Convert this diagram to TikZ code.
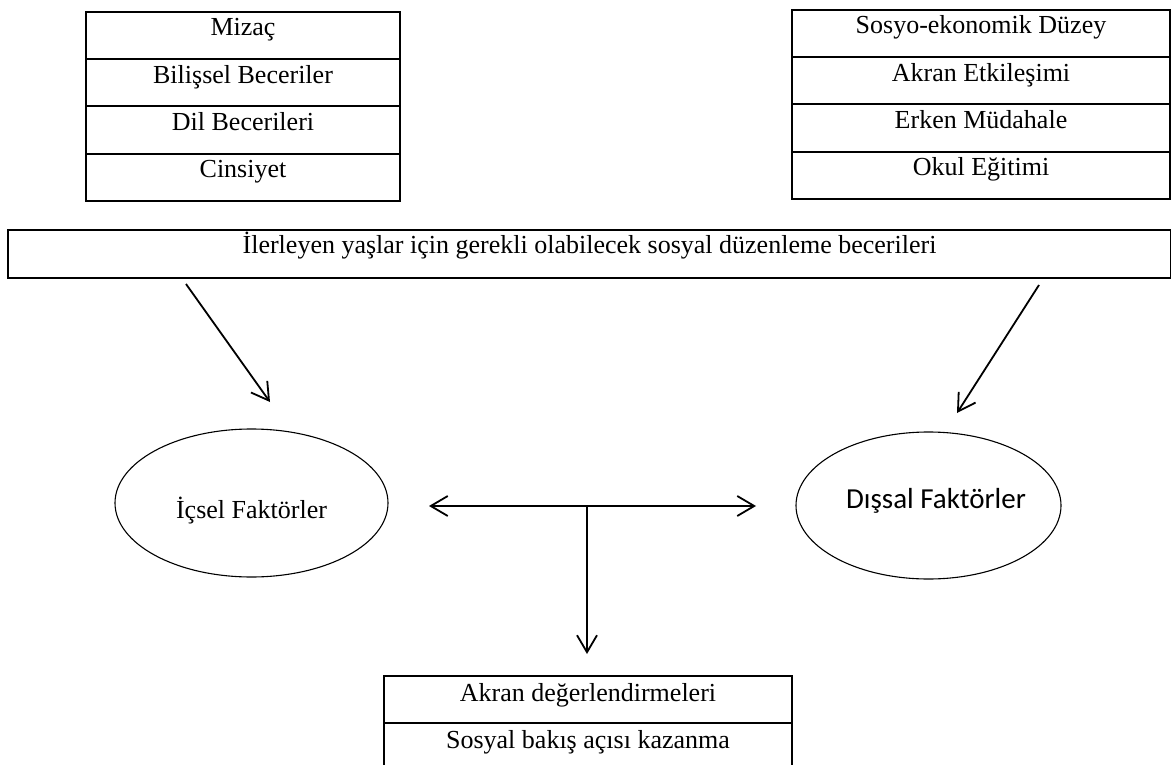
\documentclass[tikz,border=0pt]{standalone}
\usepackage{fontspec}
\setmainfont{Liberation Serif}
\newfontfamily\carlito{Carlito}
\usetikzlibrary{shapes.geometric,arrows.meta}
\begin{document}
\begin{tikzpicture}[x=1pt,y=-1pt,
  cell/.style={draw,line width=2pt,rectangle,inner sep=0pt,anchor=north west,
    text height=24pt,text depth=23.25pt,font=\fontsize{26}{30}\selectfont},
  oval/.style={draw,ellipse,line width=1.1pt,inner sep=0pt},
  link/.style={line width=1.8pt,-{Straight Barb[length=17pt,width=20pt]}},
  twoway/.style={line width=1.8pt,{Straight Barb[length=17pt,width=20pt]}-{Straight Barb[length=17pt,width=20pt]}},
]
\path[use as bounding box] (0,0) rectangle (1171,765);
\clip (0,0) rectangle (1171,765);
% left table
\node[cell,minimum width=314pt] (m1) at (85,11) {Mizaç};
\node[cell,minimum width=314pt] (m2) at (85,58.25) {Bilişsel Beceriler};
\node[cell,minimum width=314pt] (m3) at (85,105.5) {Dil Becerileri};
\node[cell,minimum width=314pt] (m4) at (85,152.75) {Cinsiyet};
% right table
\node[cell,minimum width=378pt] (s1) at (791,9) {Sosyo-ekonomik Düzey};
\node[cell,minimum width=378pt] (s2) at (791,56.25) {Akran Etkileşimi};
\node[cell,minimum width=378pt] (s3) at (791,103.5) {Erken Müdahale};
\node[cell,minimum width=378pt] (s4) at (791,150.75) {Okul Eğitimi};
% wide box
\node[cell,minimum width=1163pt,text depth=24pt] (wide) at (7,229)
  {İlerleyen yaşlar için gerekli olabilecek sosyal düzenleme becerileri};
% ellipses
\node[oval,minimum width=273pt,minimum height=148pt,text height=30pt,text depth=0pt,
  font=\fontsize{26}{30}\selectfont] (ic) at (251.5,503) {İçsel Faktörler};
\node[oval,minimum width=265pt,minimum height=147pt,text height=15pt,text depth=10pt,
  font=\carlito\fontsize{29}{34}\selectfont] (dis) at (928.5,505.5) {\makebox[0pt]{\hspace*{15pt}Dışsal Faktörler}};
% bottom table
\node[cell,minimum width=408pt,text height=25pt,text depth=22pt] (b1) at (383,675) {Akran değerlendirmeleri};
\node[cell,minimum width=408pt,text height=25pt,text depth=22pt] (b2) at (383,722) {Sosyal bakış açısı kazanma};
% connector ends
\coordinate (la) at (186,284);
\coordinate (lb) at (270,402);
\coordinate (ra) at (1039,285);
\coordinate (rb) at (957,413);
\coordinate (hl) at (429,506);
\coordinate (hr) at (756,506);
\coordinate (hj) at (587,506);
\coordinate (vd) at (587,654);
\draw[link] (la) -- (lb);
\draw[link] (ra) -- (rb);
\draw[twoway] (hl) -- (hr);
\draw[link] (hj) -- (vd);
\end{tikzpicture}
\end{document}
